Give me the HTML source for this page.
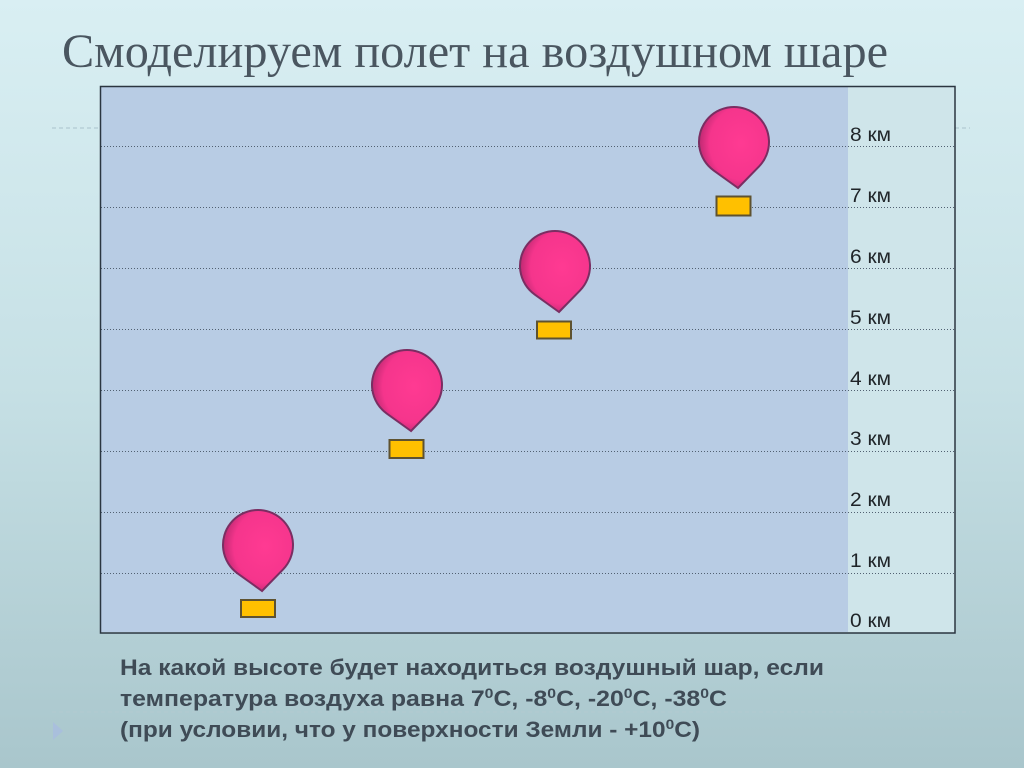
<!DOCTYPE html>
<html>
<head>
<meta charset="utf-8">
<style>
html,body{margin:0;padding:0;width:1024px;height:768px;overflow:hidden;}
svg{display:block;}
</style>
</head>
<body>
<svg width="1024" height="768" viewBox="0 0 1024 768" xmlns="http://www.w3.org/2000/svg">
<defs>
<linearGradient id="bg" x1="0" y1="0" x2="0" y2="1">
<stop offset="0" stop-color="#d9eff3"/>
<stop offset="0.5" stop-color="#c6e0e5"/>
<stop offset="1" stop-color="#a9c6cc"/>
</linearGradient>
<radialGradient id="pink" cx="0.6" cy="0.45" r="0.62">
<stop offset="0" stop-color="#ff3a92"/>
<stop offset="0.72" stop-color="#f5358c"/>
<stop offset="1" stop-color="#b8286f"/>
</radialGradient>
<path id="bal" d="M 4 46 L -20.4 28.4 A 35 35 0 1 1 25.05 24.4 Z"/>
</defs>
<rect x="0" y="0" width="1024" height="768" fill="url(#bg)"/>
<!-- template dashed lines -->
<line x1="52" y1="128" x2="970" y2="128" stroke="#a9c2cc" stroke-width="1" stroke-dasharray="4 3"/>
<line x1="52" y1="712" x2="970" y2="712" stroke="#b6cdd3" stroke-width="1" stroke-dasharray="4 3" opacity="0.6"/>
<polygon points="53,722 63,731 53,740" fill="#a9bde0" opacity="0.8"/>

<!-- title -->
<text x="62" y="67" font-family="Liberation Serif, serif" font-size="48" fill="#4a5660" textLength="826" lengthAdjust="spacingAndGlyphs">Смоделируем полет на воздушном шаре</text>

<!-- frame -->
<rect x="100" y="86" width="855" height="547" fill="#cfe5ea"/>
<rect x="101" y="87" width="747" height="545" fill="#b8cce4"/>
<g stroke="#526172" stroke-width="1" stroke-dasharray="1 2">
<line x1="101" y1="146.5" x2="955" y2="146.5"/>
<line x1="101" y1="207.5" x2="955" y2="207.5"/>
<line x1="101" y1="268.5" x2="955" y2="268.5"/>
<line x1="101" y1="329.5" x2="955" y2="329.5"/>
<line x1="101" y1="390.5" x2="955" y2="390.5"/>
<line x1="101" y1="451.5" x2="955" y2="451.5"/>
<line x1="101" y1="512.5" x2="955" y2="512.5"/>
<line x1="101" y1="573.5" x2="955" y2="573.5"/>
</g>
<rect x="100.5" y="86.5" width="854.5" height="546.5" fill="none" stroke="#2b3540" stroke-width="1.5"/>

<!-- labels -->
<g font-family="Liberation Sans, sans-serif" font-size="19" fill="#1f2428">
<text x="850" y="141" textLength="41" lengthAdjust="spacingAndGlyphs">8 км</text>
<text x="850" y="202" textLength="41" lengthAdjust="spacingAndGlyphs">7 км</text>
<text x="850" y="263" textLength="41" lengthAdjust="spacingAndGlyphs">6 км</text>
<text x="850" y="324" textLength="41" lengthAdjust="spacingAndGlyphs">5 км</text>
<text x="850" y="385" textLength="41" lengthAdjust="spacingAndGlyphs">4 км</text>
<text x="850" y="445" textLength="41" lengthAdjust="spacingAndGlyphs">3 км</text>
<text x="850" y="506" textLength="41" lengthAdjust="spacingAndGlyphs">2 км</text>
<text x="850" y="567" textLength="41" lengthAdjust="spacingAndGlyphs">1 км</text>
<text x="850" y="627" textLength="41" lengthAdjust="spacingAndGlyphs">0 км</text>
</g>

<!-- balloons -->
<g fill="url(#pink)" stroke="#7a2e62" stroke-width="2">
<use href="#bal" transform="translate(258,545)"/>
<use href="#bal" transform="translate(407,385)"/>
<use href="#bal" transform="translate(555,266)"/>
<use href="#bal" transform="translate(734,142)"/>
</g>
<g fill="#ffc000" stroke="#5e5230" stroke-width="2">
<rect x="241" y="600" width="34" height="17"/>
<rect x="389.5" y="440" width="34" height="18"/>
<rect x="537" y="321.5" width="34" height="17"/>
<rect x="716.5" y="196.5" width="34" height="19"/>
</g>

<!-- bottom text -->
<g font-family="Liberation Sans, sans-serif" font-weight="bold" font-size="22" fill="#3f4b56">
<text x="120" y="675" textLength="704" lengthAdjust="spacingAndGlyphs">На какой высоте будет находиться воздушный шар, если</text>
<text x="120" y="706" textLength="607" lengthAdjust="spacingAndGlyphs">температура воздуха  равна 7<tspan font-size="14" dy="-8">0</tspan><tspan dy="8">С, -8</tspan><tspan font-size="14" dy="-8">0</tspan><tspan dy="8">С, -20</tspan><tspan font-size="14" dy="-8">0</tspan><tspan dy="8">С, -38</tspan><tspan font-size="14" dy="-8">0</tspan><tspan dy="8">С</tspan></text>
<text x="120" y="737" textLength="580" lengthAdjust="spacingAndGlyphs">(при условии, что у поверхности Земли - +10<tspan font-size="14" dy="-8">0</tspan><tspan dy="8">С)</tspan></text>
</g>
</svg>
</body>
</html>
